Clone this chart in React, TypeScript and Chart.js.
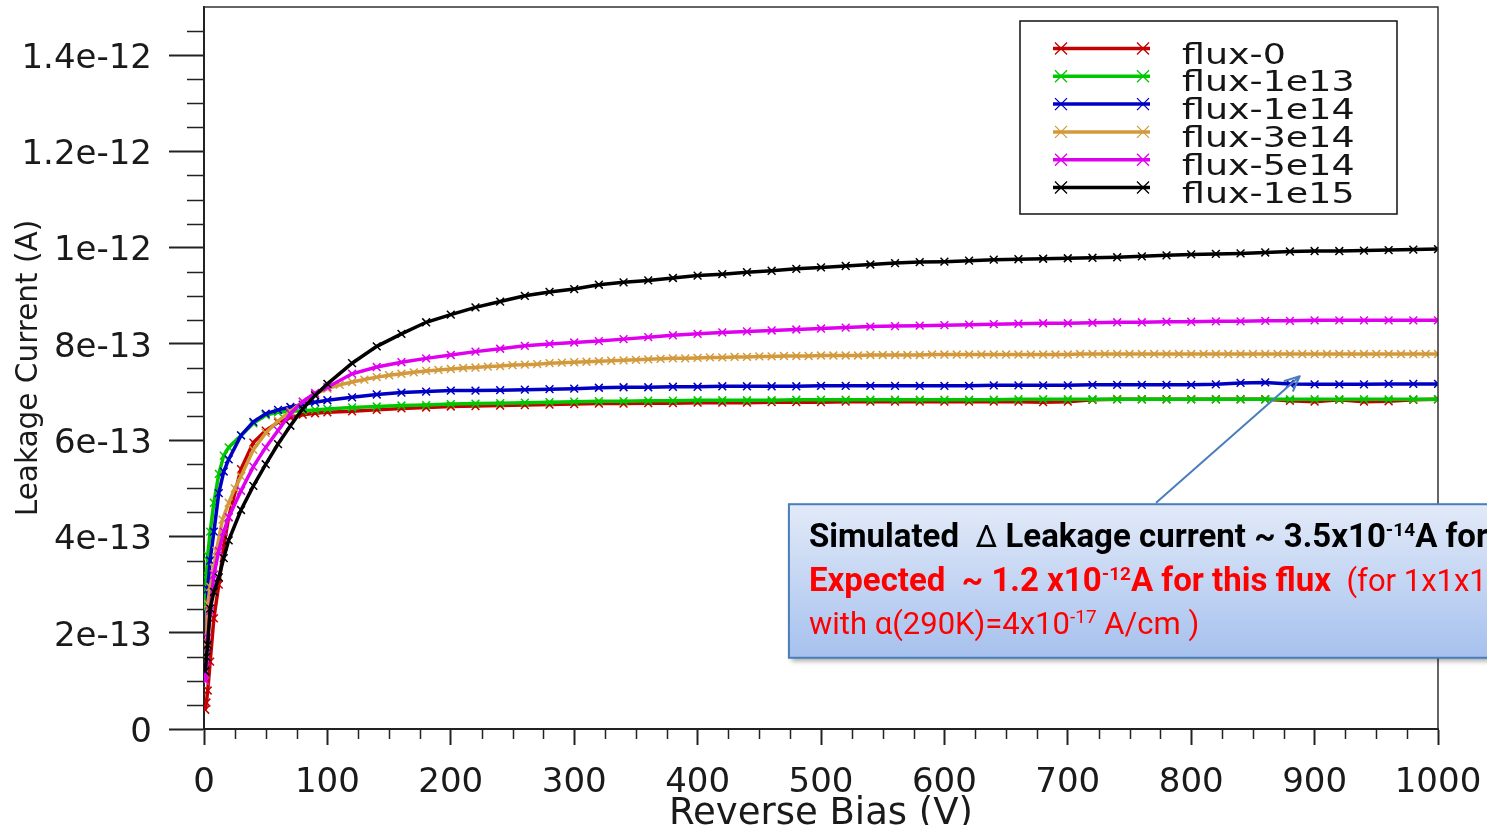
import React, { useEffect, useRef } from 'react';
import { Chart, registerables } from 'chart.js';

Chart.register(...registerables);

// ---------------- data ----------------
// Reverse bias (V) sample points shared by five of the series
const VOLTAGE = [
  1, 2, 3, 5, 8, 12, 16, 20, 30, 40, 50, 60, 70, 80, 90, 100,
  120, 140, 160, 180, 200, 220, 240, 260, 280, 300, 320, 340, 360, 380, 400,
  420, 440, 460, 480, 500, 520, 540, 560, 580, 600, 620, 640, 660, 680, 700,
  720, 740, 760, 780, 800, 820, 840, 860, 880, 900, 920, 940, 960, 980, 1000,
];

// Reverse bias (V) points of the flux-3e14 series (finer sampling)
const VOLTAGE_3E14 = [
  1, 2, 3, 5, 8, 10, 15, 20, 25, 30,
  40, 50, 60, 70, 80, 90, 100, 110, 120, 130, 140, 150, 160, 170, 180, 190, 200,
  210, 220, 230, 240, 250, 260, 270, 280, 290, 300, 310, 320, 330, 340, 350,
  360, 370, 380, 390, 400, 410, 420, 430, 440, 450, 460, 470, 480, 490, 500,
  510, 520, 530, 540, 550, 560, 570, 580, 590, 600, 610, 620, 630, 640, 650,
  660, 670, 680, 690, 700, 710, 720, 730, 740, 750, 760, 770, 780, 790, 800,
  810, 820, 830, 840, 850, 860, 870, 880, 890, 900, 910, 920, 930, 940, 950,
  960, 970, 980, 990, 1000,
];

// Leakage current, in units of 1e-13 A
const CURRENT_UNIT = 1e-13;

const FLUX_0 = [
  0.4, 0.55, 0.8, 1.4, 2.3, 3.0, 3.8, 4.4, 5.4, 5.95, 6.2, 6.37, 6.47, 6.53, 6.56, 6.58,
  6.6, 6.63, 6.66, 6.68, 6.7, 6.71, 6.72, 6.73, 6.74, 6.75, 6.76, 6.76, 6.77, 6.77, 6.78,
  6.78, 6.78, 6.79, 6.79, 6.79, 6.8, 6.8, 6.8, 6.8, 6.8, 6.8, 6.8, 6.8, 6.79, 6.8,
  6.84, 6.85, 6.85, 6.85, 6.85, 6.85, 6.85, 6.85, 6.82, 6.8, 6.84, 6.8, 6.81, 6.84, 6.85,
];

const FLUX_1E13 = [
  2.5, 3.2, 3.6, 4.1, 4.7, 5.3, 5.68, 5.85, 6.1, 6.35, 6.52, 6.58, 6.6, 6.61, 6.63, 6.65,
  6.68, 6.7, 6.72, 6.73, 6.75, 6.76, 6.77, 6.78, 6.79, 6.8, 6.81, 6.81, 6.82, 6.82, 6.83,
  6.83, 6.83, 6.83, 6.84, 6.84, 6.84, 6.84, 6.84, 6.84, 6.84, 6.84, 6.84, 6.85, 6.85, 6.85,
  6.85, 6.85, 6.85, 6.85, 6.85, 6.85, 6.85, 6.85, 6.85, 6.85, 6.85, 6.85, 6.85, 6.85, 6.85,
];

const FLUX_1E14 = [
  1.2, 1.7, 2.9, 3.5, 4.1, 4.9, 5.35, 5.6, 6.1, 6.38, 6.55, 6.63, 6.69, 6.74, 6.79, 6.83,
  6.89, 6.95, 6.99, 7.01, 7.03, 7.03, 7.04, 7.05, 7.06, 7.07, 7.09, 7.1, 7.1, 7.11, 7.11,
  7.12, 7.12, 7.12, 7.12, 7.13, 7.13, 7.13, 7.13, 7.13, 7.13, 7.13, 7.14, 7.14, 7.14, 7.14,
  7.15, 7.15, 7.15, 7.15, 7.15, 7.16, 7.19, 7.2, 7.17, 7.16, 7.16, 7.16, 7.17, 7.17, 7.17,
];

const FLUX_3E14 = [
  1.0, 1.8, 2.6, 2.95, 3.35, 3.7, 4.35, 4.7, 5.0, 5.25,
  5.8, 6.15, 6.4, 6.6, 6.8, 6.96, 7.07, 7.15, 7.21, 7.26, 7.31, 7.35, 7.38, 7.41, 7.44, 7.46, 7.48,
  7.5, 7.51, 7.53, 7.54, 7.56, 7.57, 7.58, 7.6, 7.61, 7.62, 7.63, 7.64, 7.65, 7.66, 7.67,
  7.68, 7.69, 7.7, 7.7, 7.71, 7.72, 7.72, 7.73, 7.73, 7.74, 7.74, 7.75, 7.75, 7.75, 7.76,
  7.76, 7.76, 7.76, 7.77, 7.77, 7.77, 7.77, 7.77, 7.78, 7.78, 7.78, 7.78, 7.78, 7.78, 7.78,
  7.78, 7.78, 7.78, 7.78, 7.78, 7.79, 7.79, 7.79, 7.79, 7.79, 7.79, 7.79, 7.79, 7.79, 7.79,
  7.79, 7.79, 7.79, 7.79, 7.79, 7.79, 7.79, 7.79, 7.79, 7.79, 7.79, 7.79, 7.79, 7.79, 7.79,
  7.79, 7.79, 7.79, 7.79, 7.79,
];

const FLUX_5E14 = [
  1.0, 1.4, 1.9, 2.45, 3.2, 3.7, 4.1, 4.4, 4.95, 5.45, 5.85, 6.2, 6.55, 6.8, 6.98, 7.1,
  7.38, 7.52, 7.62, 7.7, 7.77, 7.84, 7.9, 7.96, 8.0, 8.03, 8.06, 8.1, 8.14, 8.18, 8.21,
  8.24, 8.26, 8.28, 8.3, 8.32, 8.34, 8.36, 8.37, 8.38, 8.39, 8.4, 8.41, 8.42, 8.43, 8.43,
  8.44, 8.45, 8.45, 8.46, 8.46, 8.47, 8.47, 8.48, 8.48, 8.49, 8.49, 8.49, 8.49, 8.49, 8.49,
];

const FLUX_1E15 = [
  1.2, 1.5, 1.75, 2.5, 2.85, 3.15, 3.55, 3.92, 4.55, 5.05, 5.5, 5.92, 6.3, 6.65, 6.93, 7.17,
  7.6, 7.95, 8.21, 8.45, 8.61, 8.76, 8.88, 9.0, 9.08, 9.14, 9.23, 9.28, 9.32, 9.37, 9.42,
  9.45, 9.49, 9.52, 9.56, 9.59, 9.62, 9.65, 9.68, 9.7, 9.71, 9.73, 9.75, 9.76, 9.77, 9.78,
  9.79, 9.8, 9.82, 9.84, 9.86, 9.87, 9.88, 9.9, 9.92, 9.93, 9.93, 9.94, 9.95, 9.96, 9.97,
];

const SERIES_LABELS = ['flux-0', 'flux-1e13', 'flux-1e14', 'flux-3e14', 'flux-5e14', 'flux-1e15'];
const SERIES_X = [VOLTAGE, VOLTAGE, VOLTAGE, VOLTAGE_3E14, VOLTAGE, VOLTAGE];
const SERIES_Y = [FLUX_0, FLUX_1E13, FLUX_1E14, FLUX_3E14, FLUX_5E14, FLUX_1E15];
const SERIES_COLORS = ['#c40000', '#00c800', '#0000c4', '#d29a3c', '#e000f0', '#000000'];

const X_TICK_LABELS = ['0', '100', '200', '300', '400', '500', '600', '700', '800', '900', '1000'];
const Y_TICK_LABELS = ['0', '2e-13', '4e-13', '6e-13', '8e-13', '1e-12', '1.2e-12', '1.4e-12'];

const X_TITLE = 'Reverse Bias (V)';
const Y_TITLE = 'Leakage Current (A)';

// Annotation anchors in data space (bias V, current A)
const NOTE_BOX = { leftV: 474, topA: 4.67e-13, bottomA: 1.48e-13 };
const NOTE_ARROW = { fromV: 772, fromA: 4.71e-13, toV: 888, toA: 7.33e-13 };
const NOTE_LINES = [
  [
    { t: 'Simulated  ', bold: true, color: '#000' },
    { t: '\u0394', bold: false, color: '#000' },
    { t: ' Leakage current ~ 3.5x10', bold: true, color: '#000' },
    { t: '-14', bold: true, color: '#000', sup: true },
    { t: 'A for this flux', bold: true, color: '#000' },
  ],
  [
    { t: 'Expected  ~ 1.2 x10', bold: true, color: '#ff0000' },
    { t: '-12', bold: true, color: '#ff0000', sup: true },
    { t: 'A for this flux', bold: true, color: '#ff0000' },
    { t: '  (for 1x1x1 cm', bold: false, color: '#ff0000' },
  ],
  [
    { t: 'with \u03b1(290K)=4x10', bold: false, color: '#ff0000' },
    { t: '-17', bold: false, color: '#ff0000', sup: true },
    { t: ' A/cm )', bold: false, color: '#ff0000' },
  ],
];

const FONT = '"DejaVu Sans", sans-serif';
const NOTE_FONT = 'Roboto, "Liberation Sans", sans-serif';

// ---------------- plugins ----------------
const framePlugin = {
  id: 'frame',
  afterDraw(chart: any) {
    const { ctx, chartArea } = chart;
    ctx.save();
    ctx.strokeStyle = '#333';
    ctx.lineWidth = 1.5;
    ctx.beginPath();
    ctx.moveTo(chartArea.left, chartArea.top);
    ctx.lineTo(chartArea.right, chartArea.top);
    ctx.lineTo(chartArea.right, chartArea.bottom);
    ctx.stroke();
    ctx.restore();
  },
};

const minorTickPlugin = {
  id: 'minorTicks',
  afterDraw(chart: any) {
    const { ctx, chartArea, scales } = chart;
    const xs = scales.x;
    const ys = scales.y;
    ctx.save();
    ctx.strokeStyle = '#222';
    ctx.lineWidth = 1.5;
    ctx.beginPath();
    for (let k = 1; k * 25 < 1000; k++) {
      if (k % 4 === 0) continue;
      const px = Math.round(xs.getPixelForValue(k * 25)) + 0.5;
      ctx.moveTo(px, chartArea.bottom);
      ctx.lineTo(px, chartArea.bottom + 10);
    }
    for (let k = 1; k < 30; k++) {
      if (k % 4 === 0) continue;
      const py = Math.round(ys.getPixelForValue(k * 5e-14)) + 0.5;
      ctx.moveTo(chartArea.left - 17, py);
      ctx.lineTo(chartArea.left, py);
    }
    ctx.stroke();
    ctx.restore();
  },
};

function drawCross(ctx: CanvasRenderingContext2D, x: number, y: number, r: number) {
  ctx.moveTo(x - r, y - r);
  ctx.lineTo(x + r, y + r);
  ctx.moveTo(x - r, y + r);
  ctx.lineTo(x + r, y - r);
}

const legendPlugin = {
  id: 'boxLegend',
  afterDraw(chart: any) {
    const { ctx, chartArea } = chart;
    const left = chartArea.right - 418;
    const top = chartArea.top + 14;
    const w = 377;
    const h = 193;
    ctx.save();
    ctx.fillStyle = '#fff';
    ctx.fillRect(left, top, w, h);
    ctx.strokeStyle = '#111';
    ctx.lineWidth = 1.5;
    ctx.strokeRect(left, top, w, h);
    chart.data.datasets.forEach((ds: any, i: number) => {
      const y = top + 27.5 + i * 27.8;
      ctx.strokeStyle = ds.borderColor;
      ctx.lineWidth = 3.5;
      ctx.beginPath();
      ctx.moveTo(left + 33, y);
      ctx.lineTo(left + 130, y);
      ctx.stroke();
      ctx.lineWidth = 1.3;
      ctx.beginPath();
      drawCross(ctx, left + 41, y, 6);
      drawCross(ctx, left + 123, y, 6);
      ctx.stroke();
      ctx.save();
      ctx.translate(left + 162, y + 15);
      ctx.scale(1.3, 1);
      ctx.font = `28px ${FONT}`;
      ctx.fillStyle = '#151515';
      ctx.textBaseline = 'alphabetic';
      ctx.fillText(ds.label, 0, 0);
      ctx.restore();
    });
    ctx.restore();
  },
};

const notePlugin = {
  id: 'note',
  afterDraw(chart: any) {
    const { ctx, scales, width } = chart;
    const xs = scales.x;
    const ys = scales.y;
    const left = xs.getPixelForValue(NOTE_BOX.leftV);
    const top = ys.getPixelForValue(NOTE_BOX.topA);
    const bottom = ys.getPixelForValue(NOTE_BOX.bottomA);
    const right = width + 20;

    // arrow
    const ax0 = xs.getPixelForValue(NOTE_ARROW.fromV);
    const ay0 = ys.getPixelForValue(NOTE_ARROW.fromA);
    const ax1 = xs.getPixelForValue(NOTE_ARROW.toV);
    const ay1 = ys.getPixelForValue(NOTE_ARROW.toA);
    ctx.save();
    ctx.strokeStyle = '#4a7ebb';
    ctx.lineWidth = 2;
    ctx.lineCap = 'round';
    ctx.beginPath();
    ctx.moveTo(ax0, ay0);
    ctx.lineTo(ax1, ay1);
    const ang = Math.atan2(ay1 - ay0, ax1 - ax0);
    const hl = 16;
    ctx.moveTo(ax1, ay1);
    ctx.lineTo(ax1 - hl * Math.cos(ang - 0.42), ay1 - hl * Math.sin(ang - 0.42));
    ctx.moveTo(ax1, ay1);
    ctx.lineTo(ax1 - hl * Math.cos(ang + 0.42), ay1 - hl * Math.sin(ang + 0.42));
    ctx.stroke();
    ctx.restore();

    // box
    ctx.save();
    ctx.shadowColor = 'rgba(0,0,0,0.35)';
    ctx.shadowBlur = 5;
    ctx.shadowOffsetX = 2;
    ctx.shadowOffsetY = 3;
    const grad = ctx.createLinearGradient(0, top, 0, bottom);
    grad.addColorStop(0, '#e2eaf8');
    grad.addColorStop(1, '#a6c1ee');
    ctx.fillStyle = grad;
    ctx.fillRect(left, top, right - left, bottom - top);
    ctx.shadowColor = 'transparent';
    ctx.strokeStyle = '#4a7ebb';
    ctx.lineWidth = 2;
    ctx.strokeRect(left, top, right - left, bottom - top);

    // text
    NOTE_LINES.forEach((segs, li) => {
      let x = left + 20;
      const base = top + 43 + li * 43.5;
      segs.forEach((s: any) => {
        const size = s.sup ? 19 : s.bold ? 33 : 31;
        const weight = s.bold ? 'bold ' : '';
        ctx.font = `${weight}${size}px ${NOTE_FONT}`;
        ctx.fillStyle = s.color;
        ctx.textBaseline = 'alphabetic';
        const y = s.sup ? base - 11 : base;
        ctx.fillText(s.t, x, y);
        x += ctx.measureText(s.t).width;
      });
    });
    ctx.restore();
  },
};

// ---------------- component ----------------
export default function App() {
  const canvasRef = useRef<HTMLCanvasElement | null>(null);

  useEffect(() => {
    if (!canvasRef.current) return;
    const datasets = SERIES_LABELS.map((label, i) => ({
      label,
      data: SERIES_X[i].map((v, j) => ({ x: v, y: SERIES_Y[i][j] * CURRENT_UNIT })),
      borderColor: SERIES_COLORS[i],
      backgroundColor: SERIES_COLORS[i],
      borderWidth: 3.5,
      pointStyle: 'crossRot',
      pointRadius: 5.5,
      pointBorderWidth: 1.5,
      pointBorderColor: SERIES_COLORS[i],
      pointBackgroundColor: SERIES_COLORS[i],
      pointHoverRadius: 0,
      tension: 0,
      fill: false,
      order: SERIES_LABELS.length - i,
    }));

    const chart = new Chart(canvasRef.current, {
      type: 'line',
      data: { datasets },
      plugins: [framePlugin, minorTickPlugin, legendPlugin, notePlugin],
      options: {
        animation: false,
        responsive: true,
        maintainAspectRatio: false,
        layout: { padding: { top: 7, right: 49, bottom: 0, left: 0 } },
        plugins: {
          legend: { display: false },
          tooltip: { enabled: false },
          title: { display: false },
        },
        scales: {
          x: {
            type: 'linear',
            position: 'bottom',
            min: 0,
            max: 1000,
            ticks: {
              stepSize: 100,
              autoSkip: false,
              maxRotation: 0,
              padding: 18,
              color: '#1a1a1a',
              font: { family: FONT, size: 34 },
              callback: (v: any) => X_TICK_LABELS[Math.round(Number(v) / 100)] ?? '',
            },
            grid: {
              drawOnChartArea: false,
              drawTicks: true,
              tickLength: 16,
              tickWidth: 2,
              tickColor: '#222',
            },
            border: { display: true, color: '#222', width: 2 },
            title: {
              display: true,
              text: X_TITLE,
              color: '#1a1a1a',
              font: { family: FONT, size: 37, lineHeight: 0.6 },
              padding: { top: 0, bottom: 0 },
            },
            afterFit: (s: any) => {
              s.height = 96;
              s.paddingLeft = 0;
              s.paddingRight = 0;
            },
          },
          y: {
            type: 'linear',
            position: 'left',
            min: 0,
            max: 1.5e-12,
            ticks: {
              stepSize: 2e-13,
              includeBounds: false,
              autoSkip: false,
              padding: 17,
              labelOffset: 4,
              color: '#1a1a1a',
              font: { family: FONT, size: 34 },
              callback: (v: any) => Y_TICK_LABELS[Math.round(Number(v) / 2e-13)] ?? '',
            },
            grid: {
              drawOnChartArea: false,
              drawTicks: true,
              tickLength: 35,
              tickWidth: 2,
              tickColor: '#222',
            },
            border: { display: true, color: '#222', width: 2 },
            title: {
              display: true,
              text: Y_TITLE,
              color: '#1a1a1a',
              font: { family: FONT, size: 29.5 },
              padding: { top: 12, bottom: 0 },
            },
            afterFit: (s: any) => {
              s.width = 204;
              s.paddingTop = 0;
              s.paddingBottom = 0;
            },
          },
        },
      } as any,
    });
    return () => chart.destroy();
  }, []);

  return (
    <div
      style={{
        position: 'fixed',
        left: 0,
        top: 0,
        width: '1487px',
        height: '825px',
        background: '#fff',
        overflow: 'hidden',
      }}
    >
      <canvas ref={canvasRef} />
    </div>
  );
}
